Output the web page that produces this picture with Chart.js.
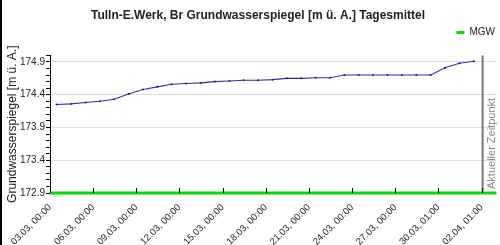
<!DOCTYPE html>
<html>
<head>
<meta charset="utf-8">
<script src="https://cdn.jsdelivr.net/npm/chart.js@4.4.1/dist/chart.umd.min.js"></script>
<style>
html, body { margin: 0; padding: 0; background: #fff; }
body { width: 500px; height: 245px; overflow: hidden; }
#wrap { position: relative; width: 498px; height: 245px; border-left: 2px solid #000; }
canvas { display: block; }
</style>
</head>
<body>
<div id="wrap"><canvas id="chart" width="498" height="245"></canvas></div>
<script>
// Tage seit 03.03. 00:00
const tickDays = [0, 3, 6, 9, 12, 15, 18, 21, 24, 27, 30]
const tickLabels = ['03.03, 00:00', '06.03, 00:00', '09.03, 00:00', '12.03, 00:00', '15.03, 00:00',
    '18.03, 00:00', '21.03, 00:00', '24.03, 00:00', '27.03, 00:00', '30.03, 01:00', '02.04, 01:00']

const sampleDays = [0.46, 1.46, 2.46, 3.46, 4.46, 5.46, 6.46, 7.46, 8.46, 9.46,
    10.46, 11.46, 12.46, 13.46, 14.46, 15.46, 16.46, 17.46, 18.46, 19.46,
    20.46, 21.46, 22.46, 23.46, 24.46, 25.46, 26.46, 27.46, 28.46, 29.46]
const levels = [174.25, 174.26, 174.28, 174.30, 174.33, 174.41, 174.48, 174.52, 174.56, 174.57,
    174.58, 174.60, 174.61, 174.62, 174.62, 174.63, 174.65, 174.65, 174.66, 174.66,
    174.70, 174.70, 174.70, 174.70, 174.70, 174.70, 174.70, 174.81, 174.88, 174.91]

const mgwLevel = 172.9
const nowDay = 30.07
const xMin = 0, xMax = 31
const yMin = 172.9, yMax = 175.0

Chart.defaults.font.family = '"Liberation Sans", Arial, sans-serif'
Chart.defaults.color = '#222'

function isMajor(v)
{
    return Math.round((v - yMin) * 10) % 5 === 0
}

//Abstand unter der Legende, Titel etwas nach rechts
const layoutTweaks = {
    id: 'layoutTweaks',
    beforeInit(chart) {
        const fit = chart.legend.fit
        chart.legend.fit = function() {
            fit.bind(chart.legend)()
            this.height += 8
        }
    },
    afterLayout(chart) {
        chart.titleBlock.left += 14
    }
}

//Striche der x-Achse zeigen nach innen
const xTicksInside = {
    id: 'xTicksInside',
    afterDraw(chart) {
        const ctx = chart.ctx
        const x = chart.scales.x
        const bottom = chart.chartArea.bottom
        ctx.save()
        ctx.strokeStyle = '#000'
        ctx.lineWidth = 1
        x.ticks.forEach(t => {
            const px = Math.round(x.getPixelForValue(t.value)) + 0.5
            ctx.beginPath()
            ctx.moveTo(px, bottom)
            ctx.lineTo(px, bottom - 5)
            ctx.stroke()
        })
        ctx.restore()
    }
}

const nowLine = {
    id: 'nowLine',
    afterDatasetsDraw(chart) {
        const ctx = chart.ctx
        const area = chart.chartArea
        const px = chart.scales.x.getPixelForValue(nowDay)
        ctx.save()
        ctx.strokeStyle = '#777'
        ctx.lineWidth = 2
        ctx.beginPath()
        ctx.moveTo(px, area.top)
        ctx.lineTo(px, area.bottom)
        ctx.stroke()
        ctx.translate(px + 9, area.bottom - 4)
        ctx.rotate(-Math.PI / 2)
        ctx.fillStyle = '#888'
        ctx.font = '11px "Liberation Sans", Arial, sans-serif'
        ctx.textAlign = 'left'
        ctx.textBaseline = 'middle'
        ctx.fillText('Aktueller Zeitpunkt', 0, 0)
        ctx.restore()
    }
}

new Chart(document.getElementById('chart'), {
    type: 'line',
    data: {
        datasets: [
            {
                label: 'Tagesmittel',
                data: sampleDays.map((d, i) => ({x: d, y: levels[i]})),
                borderColor: '#3030a8',
                borderWidth: 1.1,
                pointRadius: 1,
                pointBackgroundColor: '#1a1a80',
                pointBorderWidth: 0,
                tension: 0
            },
            {
                label: 'MGW',
                data: [{x: xMin, y: mgwLevel}, {x: xMax, y: mgwLevel}],
                borderColor: '#00dd00',
                backgroundColor: '#00dd00',
                borderWidth: 3,
                pointRadius: 0,
                clip: false
            }
        ]
    },
    options: {
        responsive: false,
        animation: false,
        layout: {padding: {top: 4, right: 0, left: 0, bottom: 0}},
        plugins: {
            title: {
                display: true,
                text: 'Tulln-E.Werk, Br Grundwasserspiegel [m ü. A.] Tagesmittel',
                font: {size: 12, weight: 'bold'},
                color: '#222',
                padding: {top: 4, bottom: 0}
            },
            legend: {
                display: true,
                position: 'top',
                align: 'end',
                labels: {
                    filter: item => item.datasetIndex === 1,
                    usePointStyle: true,
                    pointStyle: 'line',
                    pointStyleWidth: 8,
                    boxHeight: 8,
                    font: {size: 10},
                    color: '#222',
                    padding: 5
                }
            },
            tooltip: {enabled: false}
        },
        scales: {
            x: {
                type: 'linear',
                min: xMin,
                max: xMax,
                afterBuildTicks: s => { s.ticks = tickDays.map(v => ({value: v})) },
                afterFit: s => { s.height = 52 },
                grid: {display: false},
                border: {display: true, color: '#8a7a9a', width: 1},
                ticks: {
                    autoSkip: false,
                    minRotation: 45,
                    maxRotation: 45,
                    padding: 1,
                    font: {size: 9.5},
                    color: '#222',
                    callback: v => tickLabels[tickDays.indexOf(v)]
                }
            },
            y: {
                min: yMin,
                max: yMax,
                afterBuildTicks: s => {
                    const t = []
                    for (let i = 0; i <= Math.round((yMax - yMin) * 10); i++)
                        t.push({value: Math.round((yMin + i * 0.1) * 10) / 10})
                    s.ticks = t
                },
                afterFit: s => { s.width = 48 },
                grid: {
                    color: c => (c.tick && isMajor(c.tick.value)) ? '#dcdcdc' : 'rgba(0,0,0,0)',
                    tickColor: '#000',
                    tickLength: 4,
                    lineWidth: 1
                },
                border: {display: true, color: '#000', width: 1},
                ticks: {
                    autoSkip: false,
                    padding: 1,
                    font: {size: 10},
                    color: '#222',
                    callback: v => isMajor(v) ? v.toFixed(1) : ''
                },
                title: {
                    display: true,
                    text: 'Grundwasserspiegel [m ü. A.]',
                    font: {size: 12},
                    color: '#222',
                    padding: {top: 3, bottom: 0}
                }
            }
        }
    },
    plugins: [layoutTweaks, xTicksInside, nowLine]
})
</script>
</body>
</html>
